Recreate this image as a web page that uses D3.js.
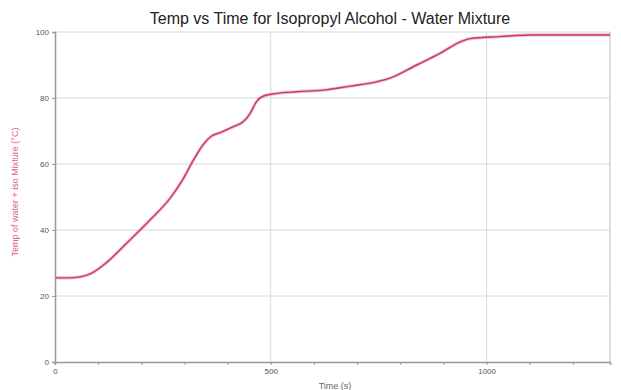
<!DOCTYPE html>
<html><head><meta charset="utf-8">
<script src="https://cdn.jsdelivr.net/npm/d3@7"></script>
<style>body{margin:0;background:#fff;font-family:"Liberation Sans",Arial,sans-serif}</style>
</head><body><svg id="c" width="621" height="390"></svg>
<script>
const title = "Temp vs Time for Isopropyl Alcohol - Water Mixture";
const xLabel = "Time (s)";
const yLabel = "Temp of water + iso Mixture (°C)";
const times = [0, 30, 58, 83, 120, 166, 220, 266, 297, 320, 344, 362, 385, 413, 436, 452, 467, 483, 514, 560, 622, 684, 745, 776, 838, 892, 939, 962, 1031, 1108, 1286];
const temps = [25.5, 25.5, 25.8, 26.8, 30.2, 36, 43, 49.5, 55.5, 61, 66, 68.4, 69.6, 71.3, 72.8, 75.3, 78.9, 80.6, 81.4, 81.9, 82.4, 83.6, 84.9, 86, 90, 93.5, 97, 98, 98.6, 99.1, 99.1];
const xTickLabels = [0, 500, 1000];
const yTickLabels = [0, 20, 40, 60, 80, 100];

const svg = d3.select("#c");
const L = 55, R = 610, T = 32, B = 362;
const x = d3.scaleLinear().domain([0, 1286]).range([L, R]);
const y = d3.scaleLinear().domain([0, 100]).range([B, T]);

svg.append("g").selectAll("line").data(yTickLabels.slice(1)).join("line")
  .attr("x1", L).attr("x2", R).attr("y1", d => y(d)).attr("y2", d => y(d))
  .attr("stroke", "#d8d8d8").attr("stroke-width", 1);
svg.append("g").selectAll("line").data(xTickLabels.slice(1)).join("line")
  .attr("y1", T).attr("y2", B).attr("x1", d => x(d)).attr("x2", d => x(d))
  .attr("stroke", "#d8d8d8").attr("stroke-width", 1);
svg.append("line").attr("x1", R).attr("x2", R).attr("y1", T).attr("y2", B).attr("stroke", "#bbb");

const xAxis = d3.axisBottom(x).tickValues(d3.range(0, 1286, 100)).tickSize(3)
  .tickFormat(d => xTickLabels.includes(d) ? d : "");
const gx = svg.append("g").attr("transform", `translate(0,${B})`).call(xAxis);
gx.select(".domain").attr("stroke", "#999").attr("stroke-width", 1.5);
gx.selectAll(".tick line").attr("stroke", "#999");
gx.selectAll("text").attr("fill", "#555").attr("font-size", 8).attr("font-family", "Liberation Sans, Arial");

const yAxis = d3.axisLeft(y).tickValues(yTickLabels).tickSize(3);
const gy = svg.append("g").attr("transform", `translate(${L},0)`).call(yAxis);
gy.select(".domain").attr("stroke", "#999").attr("stroke-width", 1.5);
gy.selectAll(".tick line").attr("stroke", "#999");
gy.selectAll("text").attr("fill", "#555").attr("font-size", 8).attr("font-family", "Liberation Sans, Arial");

const line = d3.line().x((d, i) => x(times[i])).y((d, i) => y(temps[i])).curve(d3.curveMonotoneX);
svg.append("path").datum(temps).attr("d", line).attr("fill", "none")
  .attr("stroke", "#e890ad").attr("stroke-width", 3.2).attr("opacity", 0.6);
svg.append("path").datum(temps).attr("d", line).attr("fill", "none")
  .attr("stroke", "#c83a64").attr("stroke-width", 1.4);

svg.append("text").attr("x", 330).attr("y", 24).attr("text-anchor", "middle")
  .attr("font-size", 16).attr("fill", "#222").text(title);
svg.append("text").attr("x", 335).attr("y", 389).attr("text-anchor", "middle")
  .attr("font-size", 9).attr("fill", "#666").text(xLabel);
svg.append("text").attr("transform", `translate(18,${(T + B) / 2 - 5}) rotate(-90)`)
  .attr("text-anchor", "middle").attr("font-size", 9).attr("fill", "#e0608a").text(yLabel);
</script></body></html>
